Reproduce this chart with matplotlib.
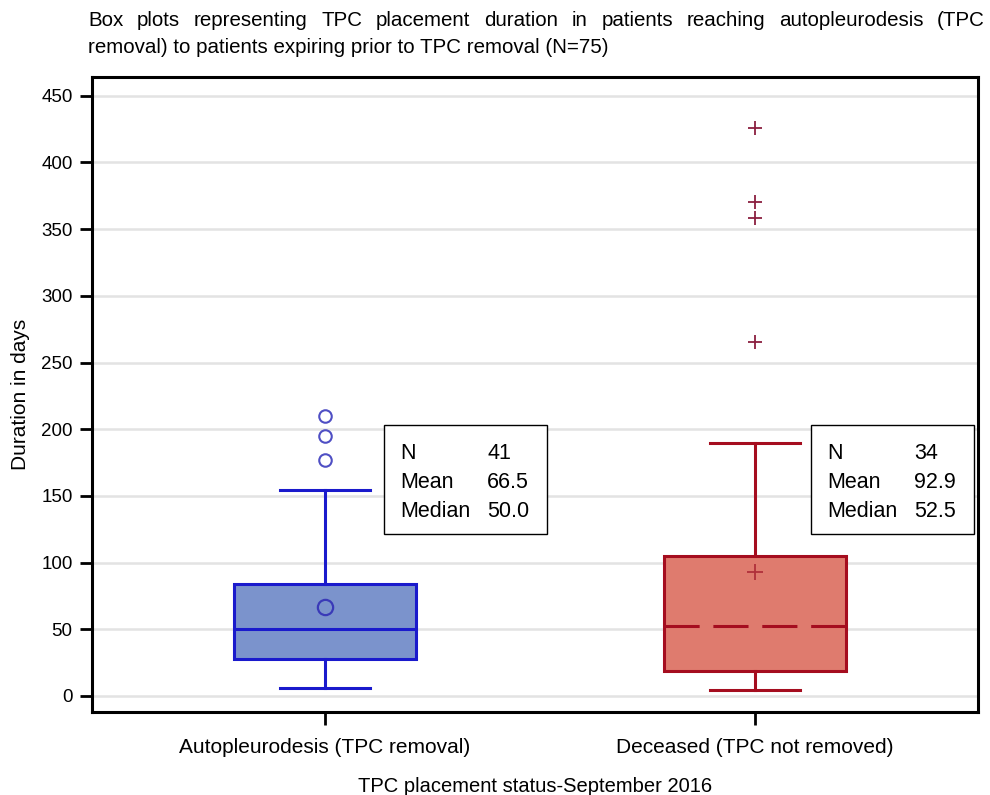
import matplotlib.pyplot as plt

plt.rcParams['font.family'] = ['Liberation Sans', 'DejaVu Sans']

groups = ["Autopleurodesis (TPC removal)", "Deceased (TPC not removed)"]
n_vals = [41, 34]
means = [66.5, 92.9]
medians = [50.0, 52.5]
q1 = [27.8, 18.8]
q3 = [84.0, 105.0]
wlo = [6.0, 4.5]
whi = [154.5, 190.0]
fliers = [[177, 195, 210], [265.5, 358.5, 370, 426]]

title1 = "Box plots representing TPC placement duration in patients reaching autopleurodesis (TPC"
title2 = "removal) to patients expiring prior to TPC removal (N=75)"

fills = ['#7b93cc', '#df7b6e']
edges = ['#1a1acc', '#a50d1f']

fig = plt.figure(figsize=(9.9, 7.95), dpi=100)
ax = fig.add_axes([0.093, 0.1044, 0.895, 0.7987])

for i in range(2):
    stats = [dict(med=medians[i], q1=q1[i], q3=q3[i], whislo=wlo[i], whishi=whi[i],
                  mean=means[i], fliers=fliers[i], label=groups[i])]
    ec = edges[i]
    if i == 0:
        flier = dict(marker='o', markerfacecolor='none', markeredgecolor='#4f4fc4',
                     markersize=9, markeredgewidth=1.5)
        meanp = dict(marker='o', markerfacecolor='none', markeredgecolor='#3a3ab8',
                     markersize=11, markeredgewidth=1.6)
        medp = dict(color=ec, linewidth=2.2)
    else:
        flier = dict(marker='+', markeredgecolor='#8b2040', markersize=10, markeredgewidth=1.3)
        meanp = dict(marker='+', markeredgecolor='#b0303a', markersize=12, markeredgewidth=1.3)
        medp = dict(color=ec, linewidth=2.2, dashes=(11.5, 4.5))
    ax.bxp(stats, positions=[i + 1], widths=0.423, patch_artist=True, showmeans=True,
           boxprops=dict(facecolor=fills[i], edgecolor=ec, linewidth=2.2),
           whiskerprops=dict(color=ec, linewidth=2.2),
           capprops=dict(color=ec, linewidth=2.2),
           medianprops=medp, meanprops=meanp, flierprops=flier,
           capwidths=0.21, zorder=3)

ax.set_xlim(0.458, 2.519)
ax.set_ylim(-12, 464)
ax.set_yticks(range(0, 451, 50))
ax.set_xticks([1, 2])
ax.set_xticklabels(groups)
ax.yaxis.grid(True, color='#e3e3e3', linewidth=1.8, zorder=0)
ax.set_axisbelow(True)
for s in ax.spines.values():
    s.set_linewidth(2.2)
ax.tick_params(axis='both', length=9, width=2, colors='black')
ax.tick_params(axis='y', labelsize=13.5, pad=5)
ax.tick_params(axis='x', labelsize=15, pad=10)
ax.set_ylabel("Duration in days", fontsize=15, labelpad=8)
ax.set_xlabel("TPC placement status-September 2016", fontsize=14.5, labelpad=14)

# stats boxes
boxes = [(384, 425), (811, 425)]
for i, (px, py) in enumerate(boxes):
    xd, yd = ax.transData.inverted().transform((px, 795 - py))
    txt = "N\nMean\nMedian"
    vals = f"{n_vals[i]}\n{means[i]:.1f}\n{medians[i]:.1f}"
    ax.text(xd + 0.037, yd - 13.5, txt, fontsize=15.5, va='top', ha='left', linespacing=1.5,
            zorder=5)
    ax.text(xd + 0.24, yd - 13.5, vals, fontsize=15.5, va='top', ha='left', linespacing=1.5,
            zorder=5)
    ax.add_patch(plt.Rectangle((xd, yd - 82), 0.379, 82, fill=True, facecolor='white',
                               edgecolor='black', linewidth=1.0, zorder=4, clip_on=True))

# title, first line justified
fig.canvas.draw()
r = fig.canvas.get_renderer()
words = title1.split()
objs = [fig.text(0, 0.974, w, fontsize=14.8, ha='left', va='center') for w in words]
widths = [o.get_window_extent(r).width for o in objs]
x0, x1 = 88, 985
gap = (x1 - x0 - sum(widths)) / (len(words) - 1)
x = x0
for o, w in zip(objs, widths):
    o.set_x(x / 990)
    x += w + gap
fig.text(88 / 990, 0.940, title2, fontsize=14.8, ha='left', va='center')

fig.savefig("out.png", dpi=100)
